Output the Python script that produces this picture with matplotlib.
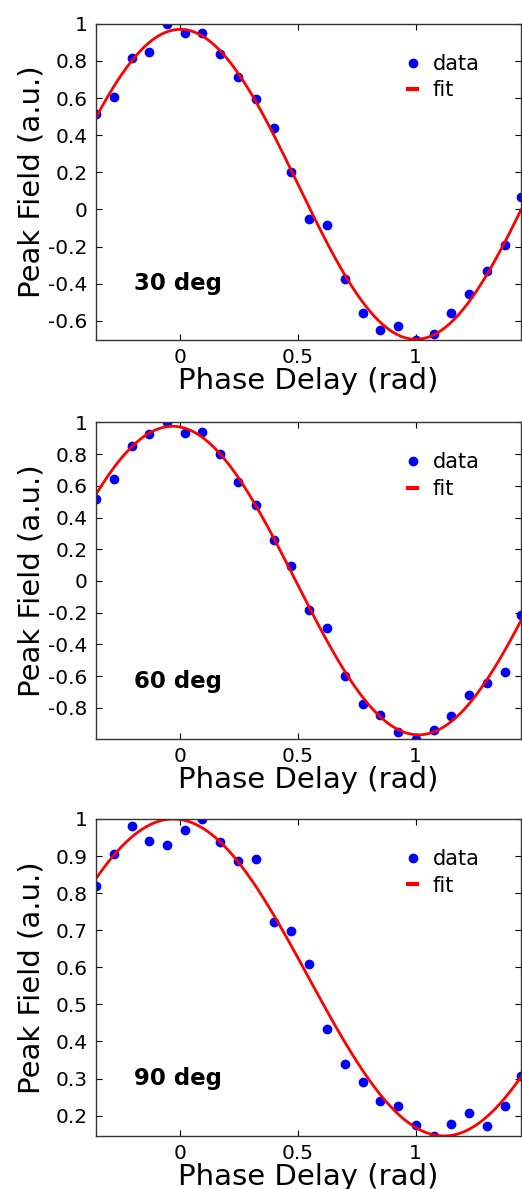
import numpy as np
import matplotlib
matplotlib.use("Agg")
import matplotlib.pyplot as plt
from matplotlib.ticker import FuncFormatter, MultipleLocator

plt.rcParams['axes.unicode_minus'] = False
plt.rcParams['font.family'] = ['DejaVu Sans']

# phase delay (rad), same sampling for all three scans
delay = [-0.358, -0.283, -0.207, -0.132, -0.057, 0.019, 0.094, 0.170, 0.245,
         0.321, 0.396, 0.472, 0.547, 0.623, 0.698, 0.774, 0.849, 0.925, 1.000,
         1.076, 1.151, 1.227, 1.302, 1.378, 1.447]

field_30 = [0.515, 0.608, 0.816, 0.850, 1.000, 0.949, 0.951, 0.838, 0.714,
            0.594, 0.441, 0.201, -0.054, -0.086, -0.377, -0.560, -0.651,
            -0.628, -0.704, -0.669, -0.558, -0.454, -0.332, -0.194, 0.066]
field_60 = [0.514, 0.645, 0.848, 0.928, 1.000, 0.930, 0.939, 0.798, 0.626,
            0.479, 0.258, 0.092, -0.181, -0.298, -0.601, -0.777, -0.846,
            -0.951, -0.996, -0.939, -0.850, -0.716, -0.645, -0.575, -0.214]
field_90 = [0.818, 0.906, 0.981, 0.940, 0.929, 0.971, 1.000, 0.939, 0.886,
            0.892, 0.721, 0.698, 0.608, 0.434, 0.340, 0.291, 0.239, 0.225,
            0.174, 0.145, 0.178, 0.208, 0.173, 0.227, 0.306]

# cosine fit: amplitude, offset, phase of maximum, period
fit_30 = [0.835, 0.135, 0.0, 2.0]
fit_60 = [0.9725, 0.0025, -0.033, 2.09]
fit_90 = [0.4275, 0.5725, -0.03, 2.3]

labels = ["30 deg", "60 deg", "90 deg"]
ytick_step = [0.2, 0.2, 0.1]

fig = plt.figure(figsize=(5.22, 11.89), dpi=100)
boxes = [(0.184, 0.714, 0.814, 0.266),
         (0.184, 0.3785, 0.814, 0.2663),
         (0.184, 0.0446, 0.814, 0.2666)]

fmt = FuncFormatter(lambda v, p: '%g' % round(v, 6))

for box, y, p, lab, step in zip(boxes, [field_30, field_60, field_90],
                                [fit_30, fit_60, fit_90], labels, ytick_step):
    ax = fig.add_axes(box)
    x = np.array(delay)
    y = np.array(y)
    xf = np.linspace(x.min(), x.max(), 300)
    yf = p[0] * np.cos(2 * np.pi * (xf - p[2]) / p[3]) + p[1]
    ax.plot(x, y, 'o', color='blue', ms=6, mec='blue', label='data')
    ax.plot(xf, yf, '-', color='red', lw=2, label='fit')
    ax.set_xlim(x.min(), x.max())
    ax.set_ylim(y.min(), y.max())
    ax.xaxis.set_major_locator(MultipleLocator(0.5))
    ax.yaxis.set_major_locator(MultipleLocator(step))
    ax.xaxis.set_major_formatter(fmt)
    ax.yaxis.set_major_formatter(fmt)
    ax.tick_params(direction='in', top=True, right=True, length=4.5,
                   width=0.8, labelsize=14.5, pad=6)
    for s in ax.spines.values():
        s.set_linewidth(1.0)
        s.set_color('#333333')
    ax.set_xlabel('Phase Delay (rad)', fontsize=21, labelpad=0)
    ax.set_ylabel('Peak Field (a.u.)', fontsize=21)
    ax.yaxis.set_label_coords(-0.118, 0.5)
    ax.text(0.09, 0.18, lab, transform=ax.transAxes, fontsize=16.5,
            fontweight='bold', ha='left', va='center')
    leg = ax.legend(loc='upper left', bbox_to_anchor=(0.734, 0.905),
                    frameon=False, fontsize=15, numpoints=1,
                    handlelength=0.45, handletextpad=0.75, borderpad=0,
                    borderaxespad=0, labelspacing=0.32)
    leg.get_lines()[1].set_linewidth(3)

fig.savefig('out.png', dpi=100)
